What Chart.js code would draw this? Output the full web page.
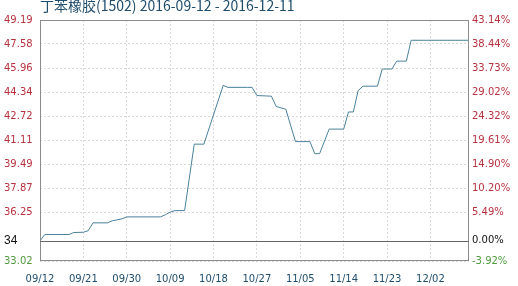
<!DOCTYPE html>
<html>
<head>
<meta charset="utf-8">
<script src="https://cdn.jsdelivr.net/npm/chart.js@4.4.1/dist/chart.umd.min.js"></script>
<style>
  html, body { margin: 0; padding: 0; background: #ffffff; }
  #wrap { width: 518px; height: 286px; position: relative; }
</style>
</head>
<body>
<div id="wrap"><canvas id="c" width="518" height="286"></canvas></div>
<script>
// ---- data ----
const titleText = '丁苯橡胶(1502) 2016-09-12 - 2016-12-11';
const dayOffsets = [0, 1, 6, 7, 9, 10, 11, 14, 15, 16, 17, 18, 25, 26, 27, 28, 30, 32, 34, 38, 39, 43, 44, 45, 48, 49, 51, 53, 56, 57, 58, 60, 63, 64, 65, 66, 67, 70, 71, 73, 74, 76, 77, 89];
const prices = [34.37, 34.80, 34.80, 34.93, 34.95, 35.05, 35.58, 35.58, 35.72, 35.78, 35.85, 35.98, 35.98, 36.12, 36.30, 36.40, 36.40, 40.86, 40.86, 44.80, 44.67, 44.67, 44.67, 44.12, 44.08, 43.39, 43.20, 41.03, 41.03, 40.22, 40.22, 41.87, 41.87, 43.02, 43.02, 44.45, 44.75, 44.75, 45.90, 45.90, 46.43, 46.43, 47.83, 47.83];
const basePrice = 34.37;
const yTickValues = [33.02, 34.37, 36.25, 37.87, 39.49, 41.11, 42.72, 44.34, 45.96, 47.58, 49.19];
const yLeftLabels = ['33.02', '34', '36.25', '37.87', '39.49', '41.11', '42.72', '44.34', '45.96', '47.58', '49.19'];
const yRightLabels = ['-3.92%', '0.00%', '5.49%', '10.20%', '14.90%', '19.61%', '24.32%', '29.02%', '33.73%', '38.44%', '43.14%'];
const xTickOffsets = [0, 9, 18, 27, 36, 45, 54, 63, 72, 81];
const xTickLabels = ['09/12', '09/21', '09/30', '10/09', '10/18', '10/27', '11/05', '11/14', '11/23', '12/02'];
const xMax = 89;

const points = dayOffsets.map((d, i) => ({ x: d, y: prices[i] }));

const RED = '#b8323f', GREEN = '#4e9a3c', BLACK = '#111111', BLUE = '#1f4d6c';
function isBase(c) { return !!(c && c.tick && Math.abs(c.tick.value - basePrice) < 1e-6); }
function labelColor(c) {
  if (!c || !c.tick) return RED;
  const v = c.tick.value;
  if (Math.abs(v - basePrice) < 1e-6) return BLACK;
  return v > basePrice ? RED : GREEN;
}

const framePlugin = {
  id: 'frame',
  afterDraw(chart) {
    const { ctx, chartArea: a } = chart;
    const y = chart.scales.y;
    ctx.save();
    ctx.strokeStyle = '#8c8c8c';
    ctx.lineWidth = 1;
    ctx.setLineDash([]);
    ctx.strokeRect(Math.round(a.left) + 0.5, Math.round(a.top) + 0.5, Math.round(a.right - a.left) - 1, Math.round(a.bottom - a.top) - 1);
    const by = Math.round(y.getPixelForValue(basePrice)) + 0.5;
    ctx.strokeStyle = '#666666';
    ctx.beginPath();
    ctx.moveTo(a.left, by);
    ctx.lineTo(a.right, by);
    ctx.stroke();
    ctx.fillStyle = BLUE;
    ctx.font = '14px "Noto Sans CJK SC"';
    ctx.textBaseline = 'alphabetic';
    ctx.textAlign = 'left';
    ctx.fillText(titleText, 40, 11);
    ctx.restore();
  }
};

new Chart(document.getElementById('c'), {
  type: 'line',
  data: {
    datasets: [{
      data: points,
      borderColor: '#4a819b',
      borderWidth: 1,
      pointRadius: 0,
      tension: 0,
      fill: false
    }]
  },
  options: {
    responsive: false,
    animation: false,
    events: [],
    layout: { padding: { top: 20, left: 4, right: 0, bottom: 0 } },
    plugins: { legend: { display: false }, tooltip: { enabled: false }, title: { display: false } },
    scales: {
      x: {
        type: 'linear',
        min: 0,
        max: xMax,
        afterBuildTicks(scale) { scale.ticks = xTickOffsets.map(v => ({ value: v })); },
        afterFit(scale) { scale.height = 25; },
        ticks: {
          autoSkip: false,
          maxRotation: 0,
          padding: 12,
          color: BLUE,
          font: { family: 'DejaVu Sans', size: 10 },
          callback: (v) => { const i = xTickOffsets.indexOf(v); return i >= 0 ? xTickLabels[i] : ''; }
        },
        grid: { color: '#d9d9d9', drawTicks: false, lineWidth: 1 },
        border: { display: false, dash: [2, 2] }
      },
      y: {
        position: 'left',
        min: yTickValues[0],
        max: yTickValues[yTickValues.length - 1],
        afterBuildTicks(scale) { scale.ticks = yTickValues.map(v => ({ value: v })); },
        afterFit(scale) { scale.width = 36; },
        ticks: {
          autoSkip: false,
          crossAlign: 'far',
          padding: 0,
          color: (c) => labelColor(c),
          font: (c) => isBase(c)
            ? { family: 'Liberation Sans', size: 12 }
            : { family: 'DejaVu Sans', size: 10 },
          callback: (v, i) => yLeftLabels[i]
        },
        grid: {
          color: (c) => isBase(c) ? 'rgba(0,0,0,0)' : '#d9d9d9',
          drawTicks: false
        },
        border: { display: false, dash: [2, 2] }
      },
      y2: {
        position: 'right',
        min: yTickValues[0],
        max: yTickValues[yTickValues.length - 1],
        afterBuildTicks(scale) { scale.ticks = yTickValues.map(v => ({ value: v })); },
        afterFit(scale) { scale.width = 49; },
        ticks: {
          autoSkip: false,
          padding: 3,
          color: (c) => labelColor(c),
          font: { family: 'DejaVu Sans', size: 10 },
          callback: (v, i) => yRightLabels[i]
        },
        grid: { drawOnChartArea: false, drawTicks: false },
        border: { display: false }
      }
    }
  },
  plugins: [framePlugin]
});
</script>
</body>
</html>
